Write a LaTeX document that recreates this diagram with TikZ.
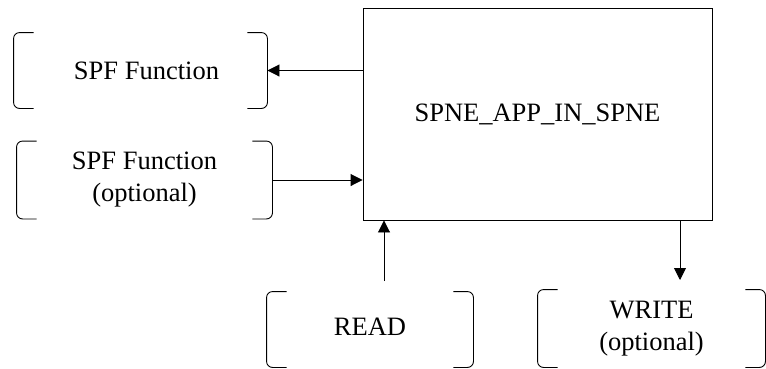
\documentclass[tikz,border=0pt]{standalone}
\usepackage{fontspec}
\setmainfont{Liberation Serif}
\usetikzlibrary{arrows.meta,calc}
\newcommand\drawbrackets[1]{%
  \draw[rounded corners=6pt] ([xshift=20pt]#1.north west) -- (#1.north west) -- (#1.south west) -- ([xshift=20pt]#1.south west);
  \draw[rounded corners=6pt] ([xshift=-20pt]#1.north east) -- (#1.north east) -- (#1.south east) -- ([xshift=-20pt]#1.south east);}
\begin{document}
\begin{tikzpicture}[x=1pt,y=-1pt, line width=0.9pt,
  every node/.style={font=\fontsize{26.5}{32}\selectfont, inner sep=0pt, align=center},
  arr/.style={-{Triangle[length=12pt,width=12pt]}}]
\useasboundingbox (0,0) rectangle (766,368);
\node[draw, minimum width=349pt, minimum height=212pt] (main) at (537.5,114) {SPNE\_APP\_IN\_SPNE};
\node[minimum width=253pt, minimum height=75pt] (spf1) at (140.5,70.5) {\hspace*{12pt}SPF Function};
\node[minimum width=255pt, minimum height=77pt] (spf2) at (144.5,180) {SPF Function\\(optional)};
\node[minimum width=206pt, minimum height=75pt] (read) at (370,329.5) {\raisebox{6pt}{READ}};
\node[minimum width=227pt, minimum height=77pt] (write) at (651.5,328.5) {WRITE\\(optional)};
\drawbrackets{spf1}
\drawbrackets{spf2}
\drawbrackets{read}
\drawbrackets{write}
\coordinate (rt) at (384,281);
\coordinate (wt) at (680,280);
\draw[arr] (main.west |- spf1.east) -- (spf1.east);
\draw[arr] (spf2.east) -- (main.west |- spf2.east);
\draw[arr] (rt) -- (rt |- main.south);
\draw[arr] (wt |- main.south) -- (wt);
\end{tikzpicture}
\end{document}
